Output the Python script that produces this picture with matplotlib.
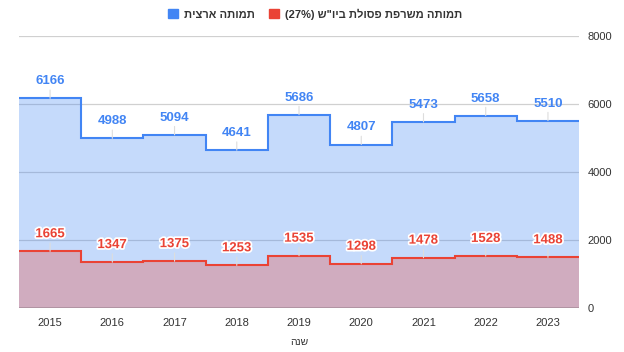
import matplotlib.pyplot as plt
import matplotlib.patheffects as pe
import numpy as np

plt.rcParams["font.family"] = ["Liberation Sans", "DejaVu Sans"]

# data
years = [2015, 2016, 2017, 2018, 2019, 2020, 2021, 2022, 2023]
national = [6166, 4988, 5094, 4641, 5686, 4807, 5473, 5658, 5510]
burning = [1665, 1347, 1375, 1253, 1535, 1298, 1478, 1528, 1488]
y_ticks = [0, 2000, 4000, 6000, 8000]


def rtl(s):
    # matplotlib has no bidi support, so write Hebrew in visual order
    return s[::-1]


label_national = rtl("תמותה ארצית")
label_burning = "(27%) " + rtl('תמותה משרפת פסולת ביו"ש')
x_title = rtl("שנה")

BLUE = "#4285F4"
RED = "#EA4335"

fig = plt.figure(figsize=(6.24, 3.52), dpi=100)
ax = fig.add_axes([0.0304, 0.125, 0.8976, 0.7727])

edges = np.arange(years[0] - 0.5, years[-1] + 1.0, 1.0)

ax.stairs(national, edges, fill=True, color=BLUE, alpha=0.3, linewidth=0, zorder=2)
ax.stairs(burning, edges, fill=True, color=RED, alpha=0.3, linewidth=0, zorder=3)
ax.stairs(national, edges, baseline=None, color=BLUE, linewidth=1.5, zorder=4)
ax.stairs(burning, edges, baseline=None, color=RED, linewidth=1.5, zorder=5)

ax.set_xlim(edges[0], edges[-1])
ax.set_ylim(0, 8000)

# grid
for t in y_ticks[1:]:
    ax.axhline(t, color="#d0d0d0", linewidth=0.9, zorder=1)
ax.axhline(0, color="#333333", linewidth=1.0, zorder=6)

ax.yaxis.tick_right()
ax.set_yticks(y_ticks)
ax.set_yticklabels([str(t) for t in y_ticks])
ax.set_xticks(years)
ax.set_xticklabels([str(y) for y in years])
ax.tick_params(axis="both", length=0, labelsize=8, colors="#333333")
ax.tick_params(axis="y", pad=6)
ax.tick_params(axis="x", pad=7)
for s in ax.spines.values():
    s.set_visible(False)

ax.set_xlabel(x_title, fontsize=7.5, color="#333333", labelpad=7)

# data labels with leader lines
for x, v in zip(years, national):
    ax.annotate(str(v), (x, v), xytext=(0, 8), textcoords="offset points",
                ha="center", va="bottom", fontsize=9.5, fontweight="bold",
                color=BLUE, zorder=8,
                arrowprops=dict(arrowstyle="-", color="#dddddd", lw=0.8,
                                shrinkA=0, shrinkB=0))
for x, v in zip(years, burning):
    t = ax.annotate(str(v), (x, v), xytext=(0, 8), textcoords="offset points",
                    ha="center", va="bottom", fontsize=9.5, fontweight="bold",
                    color=RED, zorder=8,
                    arrowprops=dict(arrowstyle="-", color="#dddddd", lw=0.8,
                                    shrinkA=0, shrinkB=0))
    t.set_path_effects([pe.withStroke(linewidth=2.5, foreground="white")])

# legend
h1 = plt.Rectangle((0, 0), 1, 1, color=BLUE)
h2 = plt.Rectangle((0, 0), 1, 1, color=RED)
fig.legend([h1, h2], [label_national, label_burning], loc="center",
           bbox_to_anchor=(0.505, 0.96), ncol=2, frameon=False,
           prop={"size": 8, "weight": "bold"}, labelcolor="#333333",
           handlelength=0.9, handleheight=0.9, handletextpad=0.6,
           columnspacing=1.2)

fig.savefig("out.png", dpi=100)
